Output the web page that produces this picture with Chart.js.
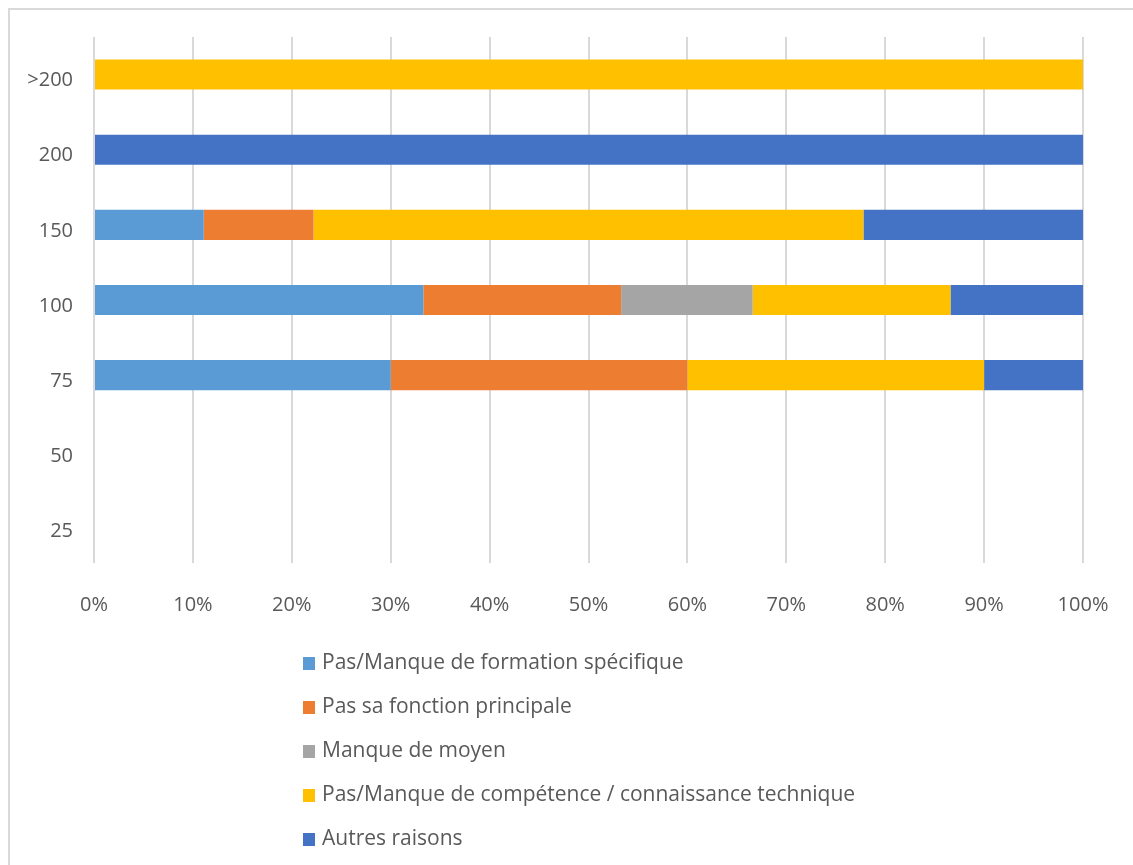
<!DOCTYPE html>
<html>
<head>
<meta charset="utf-8">
<script src="https://cdn.jsdelivr.net/npm/chart.js@4"></script>
<style>
    body { margin: 0; background: #fff; overflow: hidden; }
    #frame { position: absolute; left: 8px; top: 8px; width: 1200px; height: 900px; border: 2px solid #d9d9d9; }
    #wrap { position: absolute; left: 0; top: 0; width: 1133px; height: 640px; }
    #legend { position: absolute; left: 303px; top: 639px; font-family: 'Open Sans', sans-serif; font-size: 21px; color: #595959; }
    .item { height: 44px; line-height: 44px; white-space: nowrap; }
    .box { display: inline-block; width: 12px; height: 13px; margin-right: 7px; vertical-align: -1px; }
</style>
</head>
<body>
<div id="frame"></div>
<div id="wrap"><canvas id="chart"></canvas></div>
<div id="legend"></div>
<script>
const categories = ['>200', '200', '150', '100', '75', '50', '25'];
const seriesNames = [
    'Pas/Manque de formation spécifique',
    'Pas sa fonction principale',
    'Manque de moyen',
    'Pas/Manque de compétence / connaissance technique',
    'Autres raisons'
];
const formation = [0, 0, 11.1, 33.3, 30, 0, 0];
const fonction = [0, 0, 11.1, 20, 30, 0, 0];
const moyen = [0, 0, 0, 13.3, 0, 0, 0];
const competence = [100, 0, 55.6, 20, 30, 0, 0];
const autres = [0, 100, 22.2, 13.4, 10, 0, 0];
const colors = ['#5B9BD5', '#ED7D31', '#A5A5A5', '#FFC000', '#4472C4'];
const xTicks = [0, 10, 20, 30, 40, 50, 60, 70, 80, 90, 100];

const allValues = [formation, fonction, moyen, competence, autres];
const datasets = seriesNames.map((name, i) => ({
    label: name,
    data: allValues[i],
    backgroundColor: colors[i],
    borderWidth: 0,
    categoryPercentage: 1,
    barPercentage: 0.4
}));

const tickFont = { family: "'Open Sans', sans-serif", size: 20 };

new Chart(document.getElementById('chart'), {
    type: 'bar',
    data: { labels: categories, datasets: datasets },
    options: {
        indexAxis: 'y',
        responsive: true,
        maintainAspectRatio: false,
        animation: false,
        layout: { padding: { top: 37, right: 50, left: 0, bottom: 0 } },
        plugins: { legend: { display: false }, tooltip: { enabled: false } },
        scales: {
            x: {
                stacked: true,
                min: 0,
                max: 100,
                afterBuildTicks: scale => { scale.ticks = xTicks.map(v => ({ value: v })); },
                afterFit: scale => {
                    scale.height = 77;
                    scale.paddingLeft = 0;
                    scale.paddingRight = 0;
                },
                grid: { color: '#d9d9d9', lineWidth: 2, drawTicks: false },
                border: { display: false },
                ticks: { color: '#595959', font: tickFont, padding: 30, callback: v => v + '%', maxRotation: 0 }
            },
            y: {
                stacked: true,
                afterFit: scale => { scale.width = 94; },
                grid: { display: false, drawTicks: false },
                border: { display: false },
                ticks: { color: '#595959', font: tickFont, padding: 21, labelOffset: 6 }
            }
        }
    }
});

const legend = document.getElementById('legend');
seriesNames.forEach((name, i) => {
    const row = document.createElement('div');
    row.className = 'item';
    row.innerHTML = '<span class="box" style="background:' + colors[i] + '"></span>' + name;
    legend.appendChild(row);
});
</script>
</body>
</html>
